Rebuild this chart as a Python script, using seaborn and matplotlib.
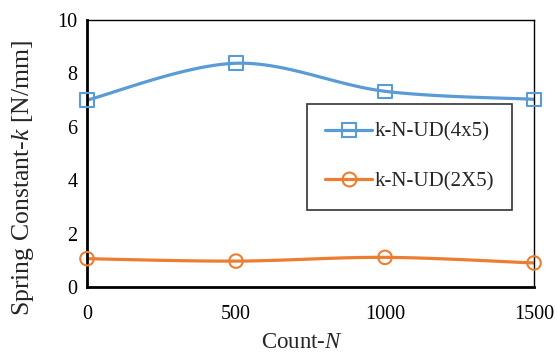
import numpy as np
import pandas as pd
import matplotlib
matplotlib.use("Agg")
import matplotlib.pyplot as plt
import seaborn as sns
from matplotlib.lines import Line2D

counts = [0, 500, 1000, 1500]
k_4x5 = [7.00, 8.38, 7.33, 7.03]
k_2x5 = [1.06, 0.97, 1.11, 0.90]
series_names = ["k-N-UD(4x5)", "k-N-UD(2X5)"]
x_ticks = [0, 500, 1000, 1500]
y_ticks = [0, 2, 4, 6, 8, 10]

sns.set_style("white")
plt.rcParams["font.family"] = ["Liberation Serif", "DejaVu Serif"]
plt.rcParams["mathtext.fontset"] = "custom"
plt.rcParams["mathtext.rm"] = "Liberation Serif"
plt.rcParams["mathtext.it"] = "Liberation Serif:italic"


def smooth(x, y, n=40):
    # Excel-style smoothed line (Catmull-Rom Bezier) through the data points
    x = np.asarray(x, float); y = np.asarray(y, float)
    px = np.concatenate([[x[0]], x, [x[-1]]])
    py = np.concatenate([[y[0]], y, [y[-1]]])
    xs, ys = [], []
    t = np.linspace(0, 1, n)
    for i in range(1, len(px) - 2):
        p0 = np.array([px[i], py[i]]); p3 = np.array([px[i + 1], py[i + 1]])
        p1 = p0 + (np.array([px[i + 1], py[i + 1]]) - np.array([px[i - 1], py[i - 1]])) / 6
        p2 = p3 - (np.array([px[i + 2], py[i + 2]]) - np.array([px[i], py[i]])) / 6
        b = ((1 - t) ** 3)[:, None] * p0 + (3 * (1 - t) ** 2 * t)[:, None] * p1 \
            + (3 * (1 - t) * t ** 2)[:, None] * p2 + (t ** 3)[:, None] * p3
        xs.extend(b[:, 0]); ys.extend(b[:, 1])
    return np.array(xs), np.array(ys)


fig = plt.figure(figsize=(5.57, 3.53), dpi=100)
ax = fig.add_axes([87 / 557, 1 - 287 / 353, (534 - 87) / 557, (287 - 20) / 353])

colors = ["#5B9BD5", "#ED7D31"]
markers = ["s", "o"]
for vals, name, c, m in zip([k_4x5, k_2x5], series_names, colors, markers):
    sx, sy = smooth(counts, vals)
    sns.lineplot(x=sx, y=sy, ax=ax, color=c, linewidth=2.3, sort=False,
                 estimator=None, zorder=2)
    sns.scatterplot(x=counts, y=vals, ax=ax, marker=m, s=95, facecolor="none",
                    edgecolor=c, linewidth=1.5, zorder=3, clip_on=False)

ax.set_xlim(0, 1500)
ax.set_ylim(0, 10)
ax.set_xticks(x_ticks)
ax.set_yticks(y_ticks)
ax.tick_params(direction="in", length=5, width=1.2, labelsize=14.5, colors="black")
ax.tick_params(axis="x", pad=13)
ax.tick_params(axis="y", pad=7)
for side in ["top", "right"]:
    ax.spines[side].set_linewidth(1.0)
    ax.spines[side].set_color("black")
for side in ["left", "bottom"]:
    ax.spines[side].set_linewidth(2.0)
    ax.spines[side].set_color("black")

ax.set_xlabel(r"Count-$\mathit{N}$", fontsize=16.5)
ax.set_ylabel(r"Spring Constant-$\mathit{k}$ [N/mm]", fontsize=18.5)
ax.xaxis.set_label_coords(0.481, -0.168)
ax.yaxis.set_label_coords(-0.115, 0.41)

handles = [Line2D([], [], color=c, marker=m, markersize=10, markerfacecolor="none",
                  markeredgewidth=1.5, linewidth=2.3)
           for c, m in zip(colors, markers)]
leg = fig.legend(handles, series_names, loc="upper left",
                 bbox_to_anchor=(307 / 557, 1 - 104 / 353), fontsize=15,
                 frameon=True, fancybox=False, edgecolor="black",
                 handlelength=2.24, handletextpad=0.1, labelspacing=1.45,
                 borderpad=0.88, borderaxespad=0)
leg.get_frame().set_linewidth(1.2)

fig.savefig("out.png", dpi=100)
